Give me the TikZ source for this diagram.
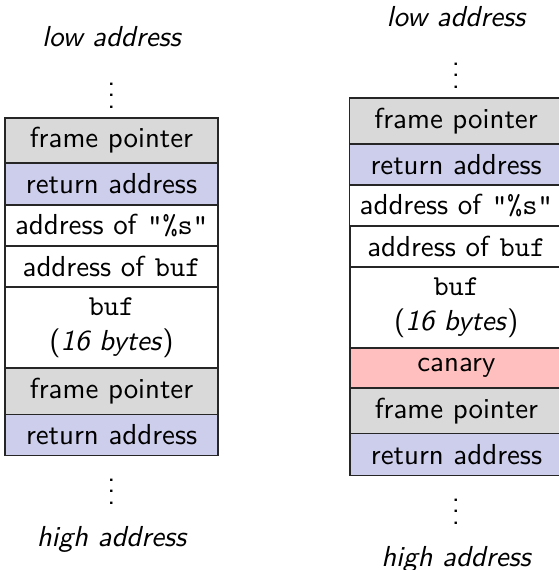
\documentclass[tikz,border=0pt]{standalone}
\usepackage{graphicx}
\newcommand{\pxu}{0.34602pt}
\definecolor{fpgray}{RGB}{217,217,217}
\definecolor{rablue}{RGB}{205,205,236}
\definecolor{canred}{RGB}{255,191,191}
\tikzset{
  cell/.style={inner sep=0pt, outer sep=0pt, minimum width=213*\pxu,
    anchor=north, align=center, font=\sffamily},
  fpcell/.style={cell, fill=fpgray},
  racell/.style={cell, fill=rablue},
  wcell/.style={cell, fill=white},
  cancell/.style={cell, fill=canred},
  cellborder/.style={draw=black!85, line width=1.5pt},
  lbl/.style={anchor=base, font=\sffamily\itshape, inner sep=0pt},
  dotslbl/.style={anchor=base, font=\sffamily, inner sep=0pt}
}
\begin{document}
\begin{tikzpicture}[x=0.34602pt, y=-0.34602pt, scale=2.89, every node/.append style={transform shape}]
\useasboundingbox (0,0) rectangle (558,570);
% left stack
\coordinate (ltop) at (111.5,118);
\node[lbl] (llow) at (111.5,47) {low address};
\node[dotslbl] (ldots1) at (111.5,108.5) {$\vdots$};
\node[fpcell, minimum height=45*\pxu] (l1) at (ltop) {frame pointer};
\node[racell, minimum height=42*\pxu] (l2) at (l1.south) {return address};
\node[wcell, minimum height=41*\pxu] (l3) at (l2.south) {address of \texttt{"\%s"}};
\node[wcell, minimum height=41*\pxu] (l4) at (l3.south) {address of \texttt{buf}};
\node[wcell, minimum height=81*\pxu] (l5) at (l4.south) {\texttt{buf}\\(\textit{16 bytes})};
\node[fpcell, minimum height=46*\pxu] (l6) at (l5.south) {frame pointer};
\node[racell, minimum height=41*\pxu] (l7) at (l6.south) {return address};
\node[dotslbl] (ldots2) at (111.5,504.5) {$\vdots$};
\node[lbl] (lhigh) at (111.5,546) {high address};
% right stack
\coordinate (rtop) at (456,98);
\node[lbl] (rlow) at (456,27) {low address};
\node[dotslbl] (rdots1) at (456,88.5) {$\vdots$};
\node[fpcell, minimum height=46*\pxu] (r1) at (rtop) {frame pointer};
\node[racell, minimum height=41*\pxu] (r2) at (r1.south) {return address};
\node[wcell, minimum height=41*\pxu] (r3) at (r2.south) {address of \texttt{"\%s"}};
\node[wcell, minimum height=41*\pxu] (r4) at (r3.south) {address of \texttt{buf}};
\node[wcell, minimum height=81*\pxu] (r5) at (r4.south) {\texttt{buf}\\(\textit{16 bytes})};
\node[cancell, minimum height=40*\pxu] (r6) at (r5.south) {canary};
\node[fpcell, minimum height=45*\pxu] (r7) at (r6.south) {frame pointer};
\node[racell, minimum height=42*\pxu] (r8) at (r7.south) {return address};
\node[dotslbl] (rdots2) at (456,524.5) {$\vdots$};
\node[lbl] (rhigh) at (456,566) {high address};
% borders drawn over the fills
\foreach \n in {l1,l2,l3,l4,l5,l6,l7,r1,r2,r3,r4,r5,r6,r7,r8}
  \draw[cellborder] (\n.north west) rectangle (\n.south east);
\end{tikzpicture}
\end{document}
